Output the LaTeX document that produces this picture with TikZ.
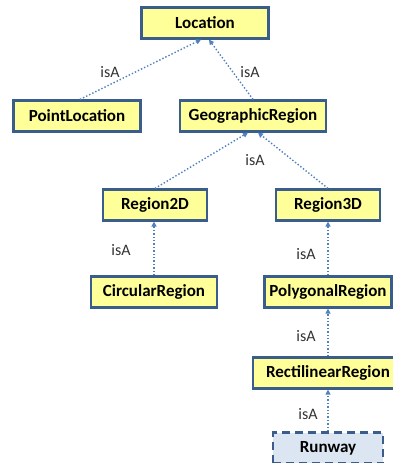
\documentclass[tikz,border=0pt]{standalone}
\usepackage{fontspec}
\setmainfont{Carlito}
\usetikzlibrary{arrows.meta}
\definecolor{clsborder}{RGB}{58,93,140}
\definecolor{clsfill}{RGB}{255,255,153}
\definecolor{instfill}{RGB}{220,230,242}
\definecolor{isablue}{RGB}{79,129,189}

\begin{document}
\begin{tikzpicture}[
        x=1pt, y=-1pt,
        cls/.style={draw=clsborder, fill=clsfill, line width=2.2pt, minimum height=31pt,
            inner sep=2pt, font=\bfseries\fontsize{17}{19}\selectfont},
        inst/.style={cls, fill=instfill, dash pattern=on 8pt off 5pt},
        isa/.style={draw=isablue, line width=1.4pt, dotted, -{Triangle[width=5pt,length=5pt]}},
        lbl/.style={font=\fontsize{16}{18}\selectfont, text=black!80}
    ]
        \useasboundingbox (0,0) rectangle (393,463);

        \foreach \name/\x/\y/\w/\txt in {loc/205/23/127/Location, ptloc/77/116/127/PointLocation,
            geo/253/116/146/GeographicRegion, reg2/155/205/104/Region2D, reg3/328/205/104/Region3D,
            circ/154/292/126/CircularRegion, poly/328/292/127/PolygonalRegion,
            rect/328/373/150/RectilinearRegion} {
            \node[cls, minimum width=\w pt] (\name) at (\x,\y) {\txt};
        }
        \node[inst, minimum width=110pt] (runway) at (328,448) {Runway};

        \draw[isa] (ptloc.north -| 80,0) -- ([xshift=-4pt]loc.south);
        \draw[isa] (geo.north) -- ([xshift=4pt]loc.south);
        \draw[isa] (reg2.north) -- ([xshift=-5pt]geo.south);
        \draw[isa] (reg3.north) -- ([xshift=5pt]geo.south);
        \draw[isa] (circ.north) -- (reg2.south -| circ.north);
        \draw[isa] (poly.north) -- (reg3.south);
        \draw[isa] (rect.north) -- (poly.south);
        \draw[isa] (runway.north) -- (rect.south);

        \node[lbl] (isa1) at (110,72) {isA};
        \node[lbl] (isa2) at (250,72) {isA};
        \node[lbl] (isa3) at (255,160) {isA};
        \node[lbl] (isa4) at (121,250) {isA};
        \node[lbl] (isa5) at (306,254) {isA};
        \node[lbl] (isa6) at (306,336) {isA};
        \node[lbl] (isa7) at (308,414) {isA};
    \end{tikzpicture}
\end{document}
